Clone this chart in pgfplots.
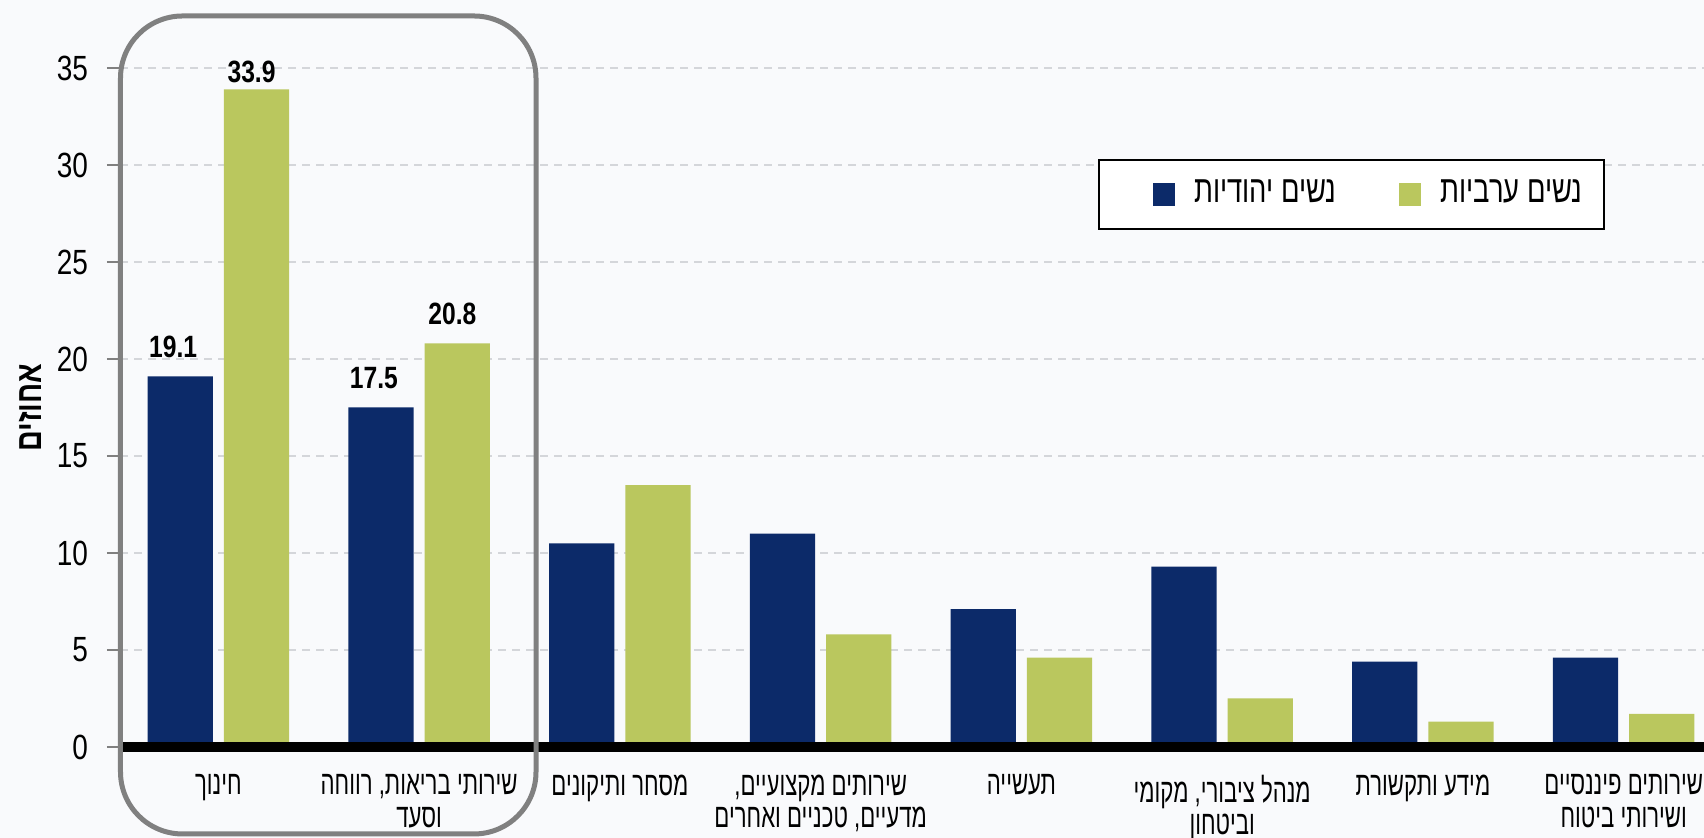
\documentclass[border=0pt]{standalone}
\usepackage{fontspec}
\setmainfont{Liberation Sans}[Script=Hebrew, FakeStretch=0.8]
\newfontfamily\catfont{Liberation Sans}[Script=Hebrew, FakeStretch=0.66]
\newfontfamily\legfont{Liberation Sans}[Script=Hebrew, FakeStretch=0.72]
\usepackage{pgfplots}
\pgfplotsset{compat=1.18}
\usetikzlibrary{backgrounds}
\TeXXeTstate=1
\definecolor{bgc}{HTML}{F9FAFC}
\definecolor{navy}{HTML}{0C2A69}
\definecolor{olive}{HTML}{BAC75E}
\definecolor{gridc}{HTML}{D4D6DA}
\definecolor{boxc}{HTML}{808080}

\begin{document}
\begin{tikzpicture}
\begin{axis}[
    scale only axis,
    width = 396pt, height = 169.75pt,
    xmin = -0.49, xmax = 7.40,
    ymin = 0, ymax = 35,
    clip = false,
    axis line style = { draw = none },
    xtick = { 0,...,7 },
    xticklabels = {
        {\beginR חינוך\endR},
        {\beginR שירותי בריאות, רווחה\endR\\\beginR וסעד\endR},
        {\beginR מסחר ותיקונים\endR},
        {\beginR שירותים מקצועיים,\endR\\\beginR מדעיים, טכניים ואחרים\endR},
        {\beginR תעשייה\endR},
        {\beginR מנהל ציבורי, מקומי\endR\\\beginR וביטחון\endR},
        {\beginR מידע ותקשורת\endR},
        {\beginR שירותים פיננסיים\endR\\\beginR ושירותי ביטוח\endR}
    },
    xtick style = { draw = none },
    xticklabel style = { font = \catfont\fontsize{8.4}{8.2}\selectfont, align = center, yshift = -3.4pt },
    ytick = { 0,5,...,35 },
    ytick pos = left,
    ytick align = outside,
    ytick style = { boxc, line width = 0.4pt },
    major tick length = 3.25pt,
    yticklabel style = { font = \fontsize{8.75}{10}\selectfont, xshift = -1.2pt },
    /pgf/number format/assume math mode = true,
    ymajorgrids,
    grid style = { gridc, dash pattern = on 2pt off 1.5pt, line width = 0.3pt },
    ylabel = { \beginR אחוזים\endR },
    ylabel style = { font = \bfseries\fontsize{9}{10}\selectfont, at = {(axis description cs:-0.0568,0.5)}, anchor = center },
    legend columns = 2,
    legend style = {
        at = {(rel axis cs:0.6174,0.866)}, anchor = north west,
        draw = black, line width = 0.5pt,
        font = \legfont\fontsize{9.5}{11}\selectfont,
        inner xsep = 3.5pt, inner ysep = 3pt,
        /tikz/every odd column/.append style = { column sep = 2.8pt },
        /tikz/every even column/.append style = { column sep = 3.75pt }
    },
    nodes near coords,
    point meta = explicit symbolic,
    every node near coord/.append style = { font = \bfseries\fontsize{7.7}{9}\selectfont, inner ysep = 0pt, yshift = 4.4pt, black }
]

    \addplot[
        ybar, fill = navy, draw = none,
        bar width = 0.325, bar shift = -0.19,
        every node near coord/.append style = { xshift = -11.3pt },
        legend image code/.code = { \path (-10pt,0pt); \fill[navy] (0pt,-2.8pt) rectangle (5.5pt,2.8pt); }
    ]
    table[meta = label] {
        x  y     label
        0  19.1  19.1
        1  17.5  17.5
        2  10.5  {}
        3  11.0  {}
        4  7.1   {}
        5  9.3   {}
        6  4.4   {}
        7  4.6   {}
    };

    \addplot[
        ybar, fill = olive, draw = none,
        bar width = 0.325, bar shift = 0.19,
        every node near coord/.append style = { xshift = 8.3pt },
        legend image code/.code = { \path (-10pt,0pt); \fill[olive] (0pt,-2.8pt) rectangle (5.5pt,2.8pt); }
    ]
    table[meta = label] {
        x  y     label
        0  33.9  {\raisebox{-3pt}[\height][0pt]{33.9}}
        1  20.8  20.8
        2  13.5  {}
        3  5.8   {}
        4  4.6   {}
        5  2.5   {}
        6  1.3   {}
        7  1.7   {}
    };

    \legend { \beginR נשים יהודיות\endR, \beginR נשים ערביות\endR }

    \draw[black, line width = 2.5pt] (axis cs:-0.475,0) -- (axis cs:7.40,0);
    \draw[boxc, line width = 1.25pt, rounded corners = 15.5pt]
        ([xshift = 0.125pt, yshift = -21.75pt]rel axis cs:0,0) rectangle ([xshift = 104pt, yshift = 13pt]rel axis cs:0,1);

    \coordinate (bbl) at ([xshift = -30pt, yshift = -22.75pt]rel axis cs:0,0);
    \coordinate (bbr) at ([yshift = 17pt]rel axis cs:1,1);
\end{axis}
\pgfresetboundingbox
\path[use as bounding box] (bbl) rectangle (bbr);
\begin{scope}[on background layer]
    \fill[bgc] (bbl) rectangle (bbr);
\end{scope}
\end{tikzpicture}
\end{document}
